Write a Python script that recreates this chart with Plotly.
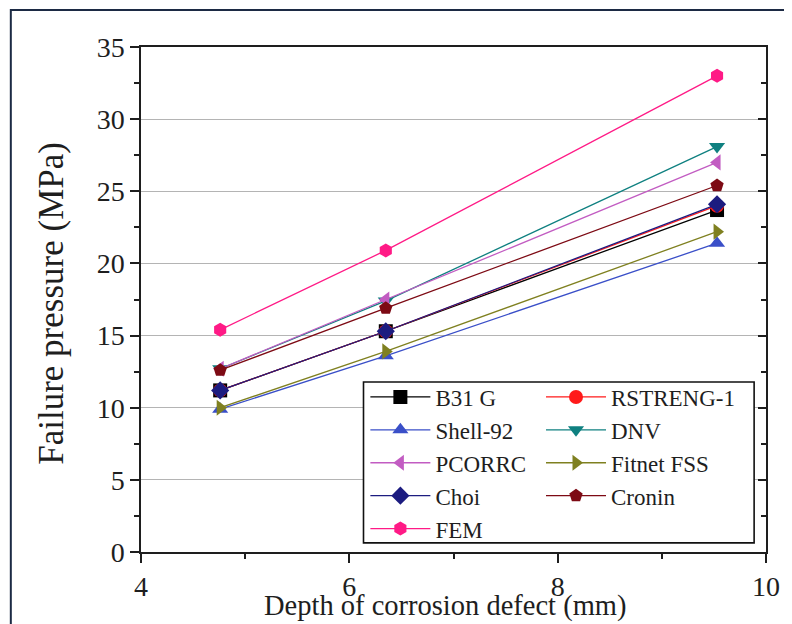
import plotly.graph_objects as go

depth = [4.76, 6.35, 9.53]

series_names = ["B31 G", "RSTRENG-1", "Shell-92", "DNV", "PCORRC",
                "Fitnet FSS", "Choi", "Cronin", "FEM"]
b31g = [11.2, 15.3, 23.7]
rstreng = [11.2, 15.3, 24.0]
shell92 = [9.9, 13.6, 21.4]
dnv = [12.7, 17.4, 28.1]
pcorrc = [12.7, 17.5, 27.0]
fitnet = [10.0, 13.9, 22.2]
choi = [11.2, 15.3, 24.1]
cronin = [12.6, 16.9, 25.4]
fem = [15.4, 20.9, 33.0]

y_ticks = [0, 5, 10, 15, 20, 25, 30, 35]
x_ticks = [4, 6, 8, 10]

values = [b31g, rstreng, shell92, dnv, pcorrc, fitnet, choi, cronin, fem]
colors = ["#000000", "#ff1a1a", "#3a4fc8", "#0f8080", "#c25cc2",
          "#7f8020", "#1c1c80", "#7d0a14", "#ff1a86"]
symbols = ["square", "circle", "triangle-up", "triangle-down", "triangle-left",
           "triangle-right", "diamond", "pentagon", "hexagon"]
# two legend columns, filled row by row
legend_ids = ["legend", "legend2", "legend", "legend2", "legend",
              "legend2", "legend", "legend2", "legend"]

FONT = "Liberation Serif"
TXT = "#1e1e1e"

fig = go.Figure()
for name, vals, c, s, lg in zip(series_names, values, colors, symbols, legend_ids):
    fig.add_trace(go.Scatter(
        x=depth, y=vals, name=name, mode="lines+markers", legend=lg,
        line=dict(color=c, width=1.3),
        marker=dict(color=c, symbol=s, size=14, line=dict(width=0)),
    ))

# invisible trace carrying the right-hand tick axis
fig.add_trace(go.Scatter(x=[depth[0]], y=[y_ticks[0]], yaxis="y2", mode="markers",
                         marker=dict(opacity=0), showlegend=False,
                         hoverinfo="skip"))

leg_common = dict(
    orientation="v", yanchor="top", xanchor="left",
    itemwidth=60, tracegroupgap=0,
    borderwidth=0, bgcolor="rgba(0,0,0,0)",
    font=dict(family=FONT, size=23, color=TXT),
)

fig.update_layout(
    width=784, height=616,
    margin=dict(l=133, r=22, t=39, b=72),
    paper_bgcolor="white", plot_bgcolor="white",
    font=dict(family=FONT, color=TXT, size=23),
    showlegend=True,
    legend=dict(x=0.359, y=0.3495, **leg_common),
    legend2=dict(x=0.640, y=0.3495, **leg_common),
    xaxis=dict(
        range=[4, 10], tickvals=x_ticks,
        ticks="outside", ticklen=9, tickwidth=1.5, tickcolor=TXT,
        minor=dict(dtick=1, ticks="outside", ticklen=5, tickcolor=TXT),
        showline=True, linecolor=TXT, linewidth=1.5, mirror=True,
        showgrid=False, zeroline=False,
        tickfont=dict(family=FONT, size=28, color=TXT),
    ),
    yaxis=dict(
        range=[0, 35], tickvals=y_ticks,
        ticks="outside", ticklen=9, tickwidth=1.5, tickcolor=TXT,
        minor=dict(dtick=2.5, ticks="outside", ticklen=5, tickcolor=TXT),
        showline=True, linecolor=TXT, linewidth=1.5, mirror=True,
        showgrid=True, gridcolor="#b4b4b4", gridwidth=1, zeroline=False,
        tickfont=dict(family=FONT, size=28, color=TXT),
    ),
    yaxis2=dict(
        range=[0, 35], tickvals=y_ticks, overlaying="y", side="right",
        ticks="inside", ticklen=8, tickwidth=1.5, tickcolor=TXT,
        minor=dict(dtick=2.5, ticks="inside", ticklen=5, tickcolor=TXT),
        showticklabels=False, showgrid=False, zeroline=False, showline=False,
    ),
)

# axis titles
fig.add_annotation(text="Depth of corrosion defect (mm)", xref="paper", yref="paper",
                   x=0.487, y=-0.107, xanchor="center", yanchor="middle",
                   showarrow=False, font=dict(family=FONT, size=28.5, color=TXT))
fig.add_annotation(text="Failure pressure (MPa)", xref="paper", yref="paper",
                   x=-0.1444, y=0.493, xanchor="center", yanchor="middle",
                   textangle=-90, showarrow=False,
                   font=dict(family=FONT, size=35, color=TXT))

# legend frame
fig.add_shape(type="rect", xref="paper", yref="paper",
              x0=0.356, x1=0.981, y0=0.018, y1=0.3366, layer="above",
              fillcolor="white", line=dict(color="#111111", width=1.6))

# outer frame of the figure (left and top edges)
fig.add_shape(type="path", xref="paper", yref="paper",
              path="M -0.2083,-0.16 L -0.2083,1.0735 L 1.05,1.0735",
              line=dict(color="#1c2a44", width=2))

fig.write_html("out.html")
